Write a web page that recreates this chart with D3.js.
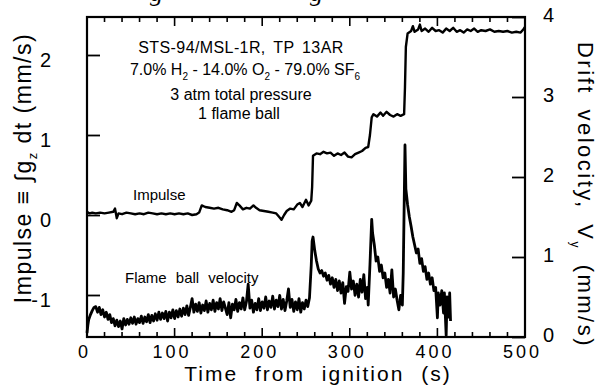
<!DOCTYPE html>
<html>
<head>
<meta charset="utf-8">
<script src="https://cdn.jsdelivr.net/npm/d3@7"></script>
<style>
body { margin: 0; background: #fff; }
svg { font-family: "Liberation Sans", Arial, sans-serif; }
</style>
</head>
<body>
<div id="chart"></div>
<script>
// impulse (left axis, mm/s)
var impT = [0,3,6,10,15,20,25,30,32,34,36,40,45,50,55,60,65,70,75,80,85,90,95,100,105,110,115,120,125,128,131,135,140,145,150,155,160,165,168,171,174,178,182,186,190,193,197,202,207,212,216,219,222,225,228,232,236,240,243,246,250,253,256,257,258,262,266,270,274,278,282,286,290,294,298,302,306,310,314,318,321,323,325,327,331,335,338,342,346,350,354,358,362,363,364,366,370,372,374,378,380,382,386,390,394,398,402,406,410,414,418,422,426,430,434,438,442,446,450,455,460,465,470,475,480,485,490,495,498,500];
var impV = [0.04,0.02,0.03,0.02,0.03,0.02,0.03,0.04,0.08,-0.04,0.02,0.01,0.03,0.02,0.01,0.02,0.01,0.03,0.02,0.01,0.02,0.01,0.02,0.01,0.02,0.01,0.02,0.00,0.01,0.03,0.12,0.10,0.09,0.08,0.09,0.07,0.06,0.04,0.06,0.15,0.12,0.07,0.09,0.08,0.12,0.09,0.06,0.05,0.04,0.03,0.02,-0.02,-0.06,0.00,0.05,0.08,0.07,0.13,0.15,0.10,0.19,0.12,0.18,0.35,0.74,0.77,0.76,0.79,0.77,0.78,0.74,0.77,0.75,0.78,0.73,0.72,0.76,0.78,0.80,0.84,0.85,1.00,1.22,1.26,1.23,1.28,1.24,1.29,1.25,1.23,1.26,1.24,1.26,1.60,2.10,2.27,2.30,2.36,2.29,2.32,2.38,2.30,2.33,2.29,2.34,2.30,2.31,2.28,2.33,2.30,2.34,2.29,2.31,2.28,2.32,2.30,2.33,2.29,2.31,2.30,2.32,2.29,2.30,2.29,2.30,2.28,2.29,2.28,2.32,2.35];

// flame ball drift velocity (right axis, mm/s)
var velT = [0,1,2,4,6,8,10,12,14,16,18,20,22,24,26,28,30,32,34,36,38,40,42,44,46,48,50,52,54,56,58,60,62,64,66,68,70,72,74,76,78,80,82,84,86,88,90,92,94,96,98,100,102,104,106,108,110,112,114,116,118,120,122,124,126,128,130,132,134,136,138,140,142,144,146,148,150,152,154,156,158,160,162,164,166,168,170,172,174,176,178,180,182,184,186,188,190,192,194,196,198,200,202,204,206,208,210,212,214,216,218,220,222,224,226,228,230,232,234,236,238,240,242,244,246,248,250,252,254,256,257,258,260,262,264,266,268,270,272,274,276,278,280,282,284,286,288,290,292,294,296,298,300,302,304,306,308,310,312,314,316,318,320,321,323,325,326,328,330,332,334,336,338,340,342,344,346,348,350,352,354,356,358,360,361,362,363,364,366,368,370,372,374,376,378,380,382,384,386,388,390,392,394,396,398,400,401,403,405,407,408,410,411,413,414,415];
var velV = [0.05,0.15,0.22,0.28,0.33,0.37,0.38,0.31,0.37,0.28,0.34,0.25,0.31,0.22,0.28,0.18,0.23,0.14,0.21,0.13,0.20,0.10,0.23,0.15,0.22,0.16,0.24,0.17,0.25,0.16,0.23,0.18,0.26,0.17,0.25,0.19,0.28,0.18,0.27,0.20,0.29,0.21,0.31,0.22,0.30,0.23,0.32,0.20,0.31,0.24,0.34,0.23,0.33,0.25,0.35,0.26,0.36,0.28,0.39,0.27,0.37,0.48,0.31,0.41,0.32,0.43,0.30,0.40,0.33,0.45,0.31,0.42,0.34,0.46,0.32,0.43,0.35,0.48,0.33,0.44,0.36,0.28,0.43,0.24,0.41,0.34,0.47,0.32,0.43,0.35,0.49,0.34,0.44,0.66,0.36,0.46,0.31,0.42,0.34,0.48,0.33,0.44,0.36,0.50,0.34,0.45,0.37,0.51,0.35,0.46,0.38,0.52,0.35,0.47,0.33,0.45,0.60,0.37,0.47,0.32,0.44,0.34,0.48,0.31,0.43,0.35,0.46,0.38,0.49,0.90,1.20,1.25,1.08,0.95,0.85,0.80,0.83,0.76,0.80,0.71,0.77,0.66,0.74,0.62,0.72,0.58,0.70,0.55,0.68,0.42,0.63,0.57,0.81,0.60,0.70,0.52,0.66,0.50,0.72,0.56,0.78,0.48,0.62,0.40,0.90,1.47,1.30,1.15,0.95,1.00,0.82,0.90,0.74,0.80,0.62,0.72,0.55,0.84,0.50,0.60,0.46,0.34,0.52,0.40,0.80,1.60,2.40,1.85,1.65,1.50,1.38,1.25,1.15,1.05,1.10,0.92,0.98,0.82,0.88,0.72,0.80,0.66,0.74,0.58,0.62,0.24,0.55,0.40,0.58,0.30,0.55,0.02,0.50,0.25,0.55,0.20];

var leftTicks = [-1, 0, 1, 2];
var leftTickLabels = ["-1", "0", "1", "2"];
var rightTicks = [0, 1, 2, 3, 4];
var xTicks = [0, 100, 200, 300, 400, 500];

var margin = {top: 17, right: 78, bottom: 54, left: 87},
    width = 603 - margin.left - margin.right,
    height = 391 - margin.top - margin.bottom;

var svg = d3.select("#chart").append("svg")
    .attr("width", 603)
    .attr("height", 391)
    .append("g")
    .attr("transform", "translate(" + margin.left + "," + margin.top + ")");

var x = d3.scaleLinear().domain([0, 500]).range([0, width]);
var yL = d3.scaleLinear().domain([-1.525, 2.475]).range([height, 0]);
var yR = d3.scaleLinear().domain([0, 4]).range([height, 0]);

//cut-off caption descenders at the very top
svg.append("g").selectAll("text")
    .data([150, 310])
    .join("text")
    .attr("x", (d) => d - margin.left)
    .attr("y", -margin.top + 1)
    .attr("font-family", "Liberation Serif, serif")
    .attr("font-style", "italic")
    .attr("font-size", 26)
    .text("g");

//minor/major ticks on top and bottom
var minor = d3.range(0, 501, 20);
["bottom", "top"].forEach(function(side) {
    svg.append("g").selectAll("line")
        .data(minor)
        .join("line")
        .attr("x1", (d) => x(d)).attr("x2", (d) => x(d))
        .attr("y1", side === "bottom" ? height : 0)
        .attr("y2", (d) => {
            var len = d % 100 === 0 ? 9 : 5;
            return side === "bottom" ? height - len : len;
        })
        .attr("stroke", "#000").attr("stroke-width", 1.6);
});

//left axis
svg.append("g")
    .call(d3.axisLeft(yL).tickValues(leftTicks).tickSize(-13).tickPadding(34).tickFormat((d, i) => leftTickLabels[i]))
    .call((g) => g.select(".domain").remove())
    .call((g) => g.selectAll("line").attr("stroke-width", 1.8))
    .call((g) => g.selectAll("text").attr("font-size", 20).attr("fill", "#000").attr("letter-spacing", "2px").attr("dy", "0.55em"));

//right axis
svg.append("g")
    .attr("transform", "translate(" + width + ",0)")
    .call(d3.axisRight(yR).tickValues(rightTicks).tickSize(-13).tickPadding(18).tickFormat(d3.format("d")))
    .call((g) => g.select(".domain").remove())
    .call((g) => g.selectAll("line").attr("stroke-width", 1.8))
    .call((g) => g.selectAll("text").attr("font-size", 20).attr("fill", "#000").attr("text-anchor", "start").attr("dy", "0.2em"));

//bottom axis labels
svg.append("g")
    .attr("transform", "translate(0," + height + ")")
    .call(d3.axisBottom(x).tickValues(xTicks).tickSize(0).tickPadding(8).tickFormat(d3.format("d")))
    .call((g) => g.select(".domain").remove())
    .call((g) => g.selectAll("text").attr("font-size", 18).attr("fill", "#000").attr("letter-spacing", "3px").attr("dx", "-3"));

//frame
svg.append("rect")
    .attr("width", width).attr("height", height)
    .attr("fill", "none").attr("stroke", "#000").attr("stroke-width", 2.2);

//series
var lineL = d3.line().x((d) => x(d[0])).y((d) => yL(d[1]));
var lineR = d3.line().x((d) => x(d[0])).y((d) => yR(d[1]));

svg.append("path")
    .datum(impT.map((t, i) => [t, impV[i]]))
    .attr("d", lineL)
    .attr("fill", "none").attr("stroke", "#000").attr("stroke-width", 2.4).attr("stroke-linejoin", "round");

svg.append("path")
    .datum(velT.map((t, i) => [t, velV[i]]))
    .attr("d", lineR)
    .attr("fill", "none").attr("stroke", "#000").attr("stroke-width", 2.8).attr("stroke-linejoin", "round");

//annotations
var notes = svg.append("g").attr("font-size", 16).attr("text-anchor", "middle").attr("fill", "#000");
notes.append("text").attr("x", 241 - margin.left).attr("y", 53 - margin.top)
    .attr("letter-spacing", "0.4px").attr("word-spacing", "3px").text("STS-94/MSL-1R, TP 13AR");
var l2 = notes.append("text").attr("x", 245 - margin.left).attr("y", 75 - margin.top);
l2.append("tspan").text("7.0% H");
l2.append("tspan").attr("font-size", 10).attr("dy", 5).text("2");
l2.append("tspan").attr("dy", -5).text(" - 14.0% O");
l2.append("tspan").attr("font-size", 10).attr("dy", 5).text("2");
l2.append("tspan").attr("dy", -5).text(" - 79.0% SF");
l2.append("tspan").attr("font-size", 10).attr("dy", 5).text("6");
notes.append("text").attr("x", 241 - margin.left).attr("y", 100 - margin.top).text("3 atm total pressure");
notes.append("text").attr("x", 239 - margin.left).attr("y", 119 - margin.top).text("1 flame ball");

svg.append("text").attr("x", 133 - margin.left).attr("y", 200 - margin.top)
    .attr("font-size", 15).text("Impulse");
svg.append("text").attr("x", 125 - margin.left).attr("y", 283 - margin.top)
    .attr("font-size", 15).attr("word-spacing", "5px").text("Flame ball velocity");

//axis titles
svg.append("text")
    .attr("x", 318 - margin.left).attr("y", 381 - margin.top)
    .attr("text-anchor", "middle").attr("font-size", 21)
    .attr("letter-spacing", "2px").attr("word-spacing", "9px")
    .text("Time from ignition (s)");

var lt = svg.append("text")
    .attr("transform", "translate(" + (31 - margin.left) + "," + (168 - margin.top) + ") rotate(-90)")
    .attr("text-anchor", "middle").attr("font-size", 23).attr("letter-spacing", "1.5px");
lt.append("tspan").text("Impulse  ≡  ∫g");
lt.append("tspan").attr("font-size", 13).attr("dy", 6).text("z");
lt.append("tspan").attr("dy", -6).text(" dt  (mm/s)");

var rt = svg.append("text")
    .attr("transform", "translate(" + (578 - margin.left) + "," + (195 - margin.top) + ") rotate(90)")
    .attr("text-anchor", "middle").attr("font-size", 22)
    .attr("letter-spacing", "2.5px").attr("word-spacing", "6px");
rt.append("tspan").text("Drift velocity, V");
rt.append("tspan").attr("font-size", 12).attr("dy", 7).text("y");
rt.append("tspan").attr("dy", -7).text("  (mm/s)");
</script>
</body>
</html>
